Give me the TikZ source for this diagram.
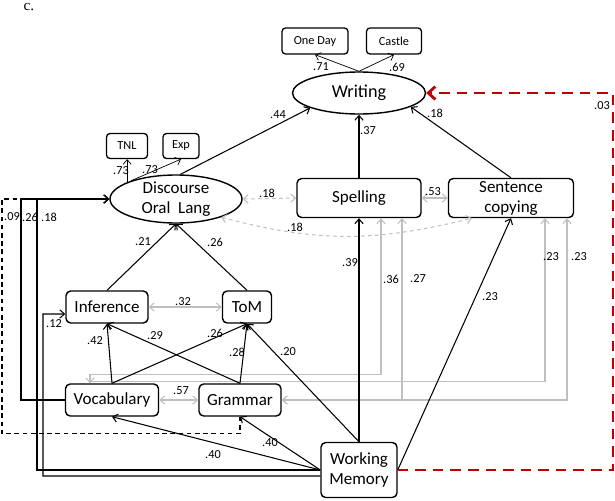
\documentclass[tikz,border=0pt]{standalone}
\usepackage{fontspec}
\setmainfont{Carlito}
\newfontfamily\serifc{Liberation Serif}
\usetikzlibrary{arrows.meta, shapes.geometric}
\definecolor{corr-gray}{HTML}{BFBFBF}
\definecolor{path-red}{HTML}{C00000}

\begin{document}
\begin{tikzpicture}[x=0.03cm, y=-0.03cm,
      >={Straight Barb[length=4pt,width=7pt]},
      every node/.style={font=\fontsize{14.5}{17}\selectfont},
      varbox/.style={draw, line width=1.2pt, rounded corners=4pt, inner sep=0pt, align=center},
      indbox/.style={draw, line width=1.1pt, rounded corners=3pt, inner sep=0pt,
                     font=\fontsize{10.5}{12}\selectfont},
      latent/.style={draw, ellipse, line width=1.2pt, inner sep=0pt, align=center},
      coef/.style={font=\fontsize{10.5}{12}\selectfont, inner sep=1pt},
      effect/.style={->, line width=0.9pt},
      loadline/.style={->, line width=0.6pt},
      corr/.style={<->, corr-gray, line width=0.9pt},
      redpath/.style={-{Straight Barb[length=6pt,width=11pt]}, path-red, line width=2.4pt,
                      dash pattern=on 9pt off 6pt}]
    \useasboundingbox (0,0) rectangle (615,500);
    \node[font=\serifc\fontsize{13}{14}\selectfont] (tag) at (29,7) {c.};

    % outcomes
    \node[latent, minimum width=3.99cm, minimum height=1.26cm,
          font=\fontsize{15.5}{17}\selectfont] (WR) at (359,93) {Writing};
    \node[indbox, minimum width=1.98cm, minimum height=0.78cm] (OD) at (315,41) {One Day};
    \node[indbox, minimum width=1.65cm, minimum height=0.78cm] (CA) at (394,41) {Castle};
    \node[latent, minimum width=3.96cm, minimum height=1.44cm, inner ysep=-1pt] (DOL) at (176,199) {Discourse\\Oral~~Lang};
    \node[indbox, minimum width=1.23cm, minimum height=0.75cm] (TNL) at (127,146) {TNL};
    \node[indbox, minimum width=1.08cm, minimum height=0.75cm] (EXP) at (181,146) {Exp};
    \node[varbox, minimum width=3.72cm, minimum height=1.17cm] (SP) at (359,198) {Spelling};
    \node[varbox, minimum width=3.75cm, minimum height=1.17cm] (SC) at (511,198) {Sentence\\copying};

    % predictors
    \node[varbox, minimum width=2.46cm, minimum height=0.96cm] (INF) at (107,307) {Inference};
    \node[varbox, minimum width=1.47cm, minimum height=0.96cm] (TOM) at (247,307) {ToM};
    \node[varbox, minimum width=2.79cm, minimum height=0.96cm] (VOC) at (112,400) {Vocabulary};
    \node[varbox, minimum width=2.46cm, minimum height=0.96cm] (GRA) at (240,400) {Grammar};
    \node[varbox, minimum width=2.28cm, minimum height=1.65cm] (WM) at (359,470) {Working\\Memory};

    % correlations
    \coordinate (vtop) at ([xshift=-0.66cm]VOC.north);
    \draw[corr] (vtop) -- ++(0,-9) -| ([xshift=0.66cm]SP.south);
    \draw[corr, ->] (vtop) -- ++(0,-2) -| ([xshift=1.02cm]SC.south);
    \draw[corr] (GRA.east) -| ([xshift=1.29cm]SP.south);
    \draw[corr] (GRA.east) -| ([xshift=1.68cm]SC.south);
    \draw[corr] (INF.east) -- (TOM.west);
    \draw[corr] (VOC.east) -- (GRA.west);
    \draw[corr] (SP.east) -- (SC.west);
    \draw[corr, dashed] (DOL.east) -- (SP.west);
    \draw[corr, dashed] (DOL.-22) .. controls (318,243) and (376,242) .. ([xshift=-1.17cm]SC.south);

    % paths
    \draw[effect] (DOL.80) -- (WR.197);
    \draw[effect] (SP.north) -- (WR.south);
    \draw[effect] (SC.north) -- (WR.-15);
    \draw[loadline] (WR.north) -- (OD.south);
    \draw[loadline] (WR.north) -- (CA.south);
    \draw[loadline] (DOL.161) -- (DOL.161 |- TNL.south);
    \draw[loadline] (DOL.158) -- (EXP.south);
    \draw[effect] (INF.north) -- (DOL.south);
    \draw[effect] (TOM.north) -- (DOL.south);
    \draw[effect] (VOC.north) -- (INF.south);
    \draw[effect] (VOC.north) -- (TOM.south);
    \draw[effect] (GRA.north) -- (INF.south);
    \draw[effect] (GRA.north) -- (TOM.south);
    \draw[effect] (WM.west) -- (VOC.south);
    \draw[effect] (WM.west) -- (GRA.south);
    \draw[effect] (WM.north) -- (TOM.south);
    \draw[effect] (WM.north) -- (SP.south);
    \draw[effect] (WM.east) -- (SC.south);
    \draw[effect, dash pattern=on 4pt off 3pt] (GRA.south) -- ++(0,17) -| (2,199) -- (DOL.west);
    \draw[effect] (VOC.west) -| (21,199) -- (DOL.west);
    \draw[effect] (WM.west) -| (37,199) -- (DOL.west);
    \draw[effect] ([yshift=-0.18cm]WM.west) -| (43,314) -- ([yshift=-0.21cm]INF.west);
    \coordinate (rc) at (613,93);
    \draw[redpath] (WM.east) -| (rc) -- (WR.east);

    % coefficients
    \node[coef] (l-od) at (321,67) {.71};
    \node[coef] (l-ca) at (397,67) {.69};
    \node[coef] (l-dw) at (278,115) {.44};
    \node[coef] (l-sw) at (368,131) {.37};
    \node[coef] (l-cw) at (435,113) {.18};
    \node[coef] (l-tnl) at (121,171) {.73};
    \node[coef] (l-exp) at (150,170) {.73};
    \node[coef] (l-ds) at (267,193) {.18};
    \node[coef] (l-dc) at (295,227) {.18};
    \node[coef] (l-sc) at (433,192) {.53};
    \node[coef] (l-id) at (143,242) {.21};
    \node[coef] (l-td) at (215,242) {.26};
    \node[coef] (l-it) at (183,302) {.32};
    \node[coef] (l-wi) at (54,324) {.12};
    \node[coef] (l-vi) at (95,341) {.42};
    \node[coef] (l-gi) at (155,336) {.29};
    \node[coef] (l-vt) at (215,333) {.26};
    \node[coef] (l-gt) at (237,352) {.28};
    \node[coef] (l-wt) at (288,352) {.20};
    \node[coef] (l-vg) at (181,391) {.57};
    \node[coef] (l-wv) at (213,455) {.40};
    \node[coef] (l-wg) at (270,443) {.40};
    \node[coef] (l-wsp) at (350,263) {.39};
    \node[coef] (l-vsp) at (391,279) {.36};
    \node[coef] (l-gsp) at (418,279) {.27};
    \node[coef] (l-wsc) at (490,297) {.23};
    \node[coef] (l-vsc) at (551,257) {.23};
    \node[coef] (l-gsc) at (579,257) {.23};
    \node[coef] (l-ww) at (602,106) {.03};
    \node[coef] (l-gd) at (12,217) {.09};
    \node[coef] (l-vd) at (30,217) {.26};
    \node[coef] (l-wd) at (49,217) {.18};
  \end{tikzpicture}
\end{document}
